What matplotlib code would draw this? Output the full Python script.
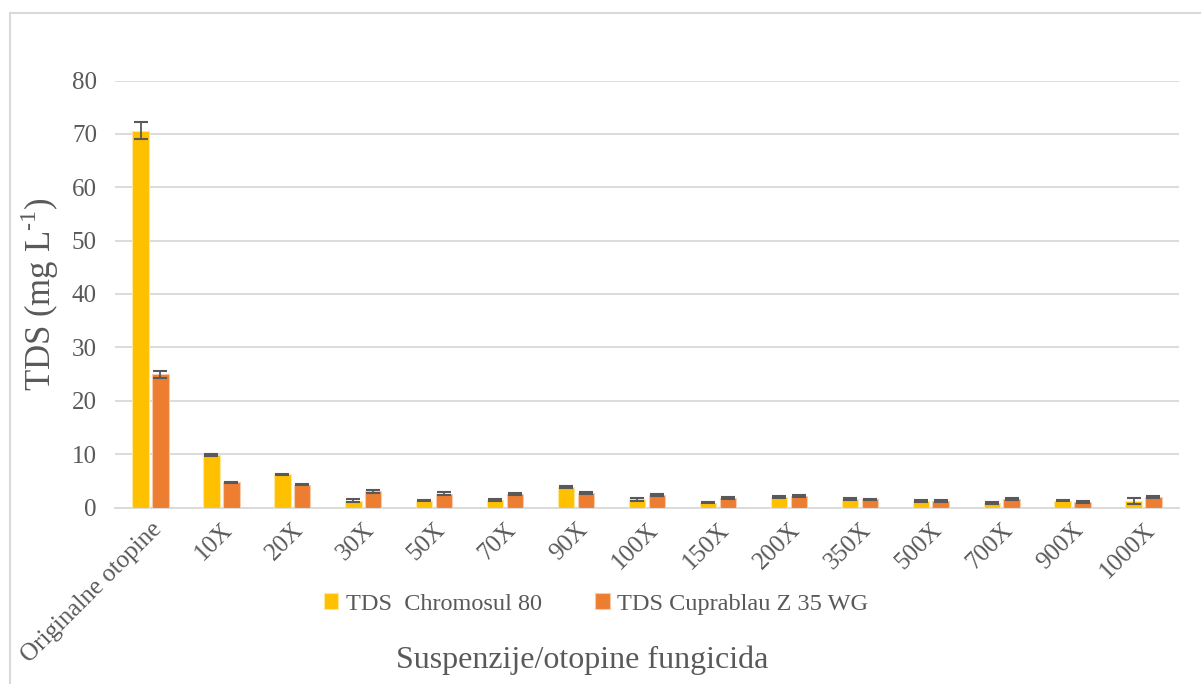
import matplotlib
matplotlib.use("Agg")
import matplotlib.pyplot as plt
import numpy as np
from matplotlib.patches import Rectangle

plt.rcParams['font.family'] = ['Liberation Serif', 'DejaVu Serif']

# data
categories = ['Originalne otopine', '10X', '20X', '30X', '50X', '70X', '90X', '100X',
              '150X', '200X', '350X', '500X', '700X', '900X', '1000X']
chromosul = [70.6, 9.8, 6.2, 1.3, 1.3, 1.4, 3.8, 1.5, 0.9, 2.0, 1.6, 1.2, 0.85, 1.3, 1.2]
chromosul_err = [1.55, 0.15, 0.15, 0.2, 0.15, 0.15, 0.2, 0.2, 0.1, 0.2, 0.15, 0.15, 0.15, 0.15, 0.6]
cuprablau = [24.95, 4.7, 4.3, 3.0, 2.6, 2.5, 2.7, 2.3, 1.8, 2.1, 1.5, 1.2, 1.6, 1.0, 2.0]
cuprablau_err = [0.65, 0.15, 0.15, 0.2, 0.25, 0.2, 0.2, 0.2, 0.2, 0.15, 0.15, 0.15, 0.2, 0.15, 0.15]

text_col = '#595959'
grid_col = '#d9d9d9'

fig = plt.figure(figsize=(12.01, 6.84), dpi=100)
ax = fig.add_axes([115 / 1201, 176.5 / 684, (1179 - 115) / 1201, (507.5 - 80.5) / 684])

x = np.arange(len(categories))
w = 0.232
err_kw = dict(ecolor='#595959', elinewidth=1.3, capsize=5, capthick=1.5)
ax.bar(x - 0.14, chromosul, w, yerr=chromosul_err, color='#FFC000',
       edgecolor='#FFE699', linewidth=0.8, error_kw=err_kw, label='TDS  Chromosul 80', zorder=3)
ax.bar(x + 0.14, cuprablau, w, yerr=cuprablau_err, color='#ED7D31',
       edgecolor='#F8CBAD', linewidth=0.8, error_kw=err_kw, label='TDS Cuprablau Z 35 WG', zorder=3)

ax.set_xlim(-0.5, len(categories) - 0.5)
ax.set_ylim(0, 80)
ax.set_yticks(range(0, 81, 10))
ax.yaxis.grid(True, color=grid_col, linewidth=1.3)
ax.set_axisbelow(True)
for s in ['top', 'right', 'left']:
    ax.spines[s].set_visible(False)
ax.spines['bottom'].set_color(grid_col)
ax.spines['bottom'].set_linewidth(1.3)
ax.tick_params(axis='both', length=0, labelsize=18, colors=text_col)
ax.tick_params(axis='y', pad=13)
ax.tick_params(axis='x', pad=8)

ax.set_xticks(x)
ax.set_xticklabels(categories, rotation=45, ha='right', rotation_mode='anchor')

ax.set_ylabel('TDS (mg L$^{\\mathregular{\u2010}\\mathregular{1}}$)', fontsize=25,
              color=text_col, labelpad=8)
fig.text(582 / 1201, 1 - 660 / 684, 'Suspenzije/otopine fungicida', fontsize=23,
         color=text_col, ha='center', va='center')

leg = fig.legend(loc='center', bbox_to_anchor=(596 / 1201, 1 - 604 / 684), ncol=2,
                 frameon=False, fontsize=17.5, handlelength=0.6, handleheight=0.6,
                 handletextpad=0.3, columnspacing=2.2)
for t in leg.get_texts():
    t.set_color(text_col)

# chart frame
fig.add_artist(Rectangle((10 / 1201, -0.1), 1.2, (684 - 13) / 684 + 0.1,
                         transform=fig.transFigure, fill=False, ec=grid_col, lw=1.5))

fig.savefig('out.png', dpi=100)
